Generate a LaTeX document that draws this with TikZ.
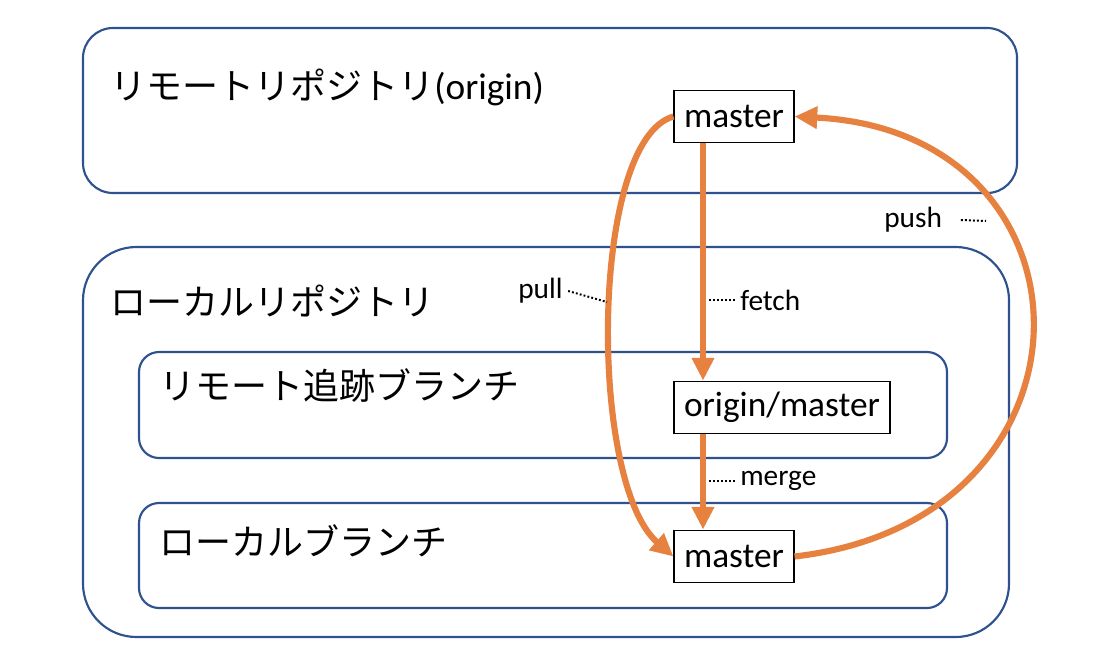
\documentclass[tikz,border=0pt]{standalone}
\usepackage{fontspec}
\setmainfont{Carlito}
\newfontfamily\cjk{Noto Sans CJK JP}
\usetikzlibrary{arrows.meta}
\definecolor{frameblue}{HTML}{2F528F}
\definecolor{arrorange}{HTML}{E6813F}
\begin{document}
\begin{tikzpicture}[x=0.75pt,y=-0.75pt,
  frame/.style={draw=frameblue,line width=1.6pt},
  title/.style={anchor=west,inner sep=0pt,font=\fontsize{27}{31}\selectfont},
  branch/.style={draw=black,line width=0.9pt,fill=white,font=\fontsize{26.5}{30}\selectfont,minimum height=39.5pt,inner xsep=7.5pt},
  arr/.style={draw=arrorange,line width=4.6pt,-{Triangle[length=17pt,width=16pt]}},
  lbl/.style={anchor=west,inner sep=0pt,font=\fontsize{22}{26}\selectfont},
  lead/.style={line width=1.5pt,dash pattern=on 1.4pt off 1.6pt}]
\useasboundingbox[fill=white] (0,0) rectangle (1102,657);
% frames
\draw[frame,rounded corners=22.5pt] (83,28) rectangle (1017,193);
\draw[frame,rounded corners=40pt] (83,247) rectangle (1009,637);
\draw[frame,rounded corners=15pt] (139,352) rectangle (947,458);
\draw[frame,rounded corners=15pt] (139,503) rectangle (947,608);
% titles
\node[title] (t1) at (110,87) {\cjk リモートリポジトリ\normalfont\fontsize{28}{31}\selectfont(origin)};
\node[title] (t2) at (110,301) {\cjk ローカルリポジトリ};
\node[title] (t3) at (159,386) {\cjk リモート追跡ブランチ};
\node[title] (t4) at (159,541) {\cjk ローカルブランチ};
% branch nodes
\node[branch] (m1) at (734,116.5) {master};
\node[branch] (om) at (782,407.5) {origin/master};
\node[branch] (m2) at (734,556.5) {master};
% arrows
\draw[arr] (m1.south -| 703,0) -- (om.north -| 703,0);
\draw[arr] (om.south -| 703,0) -- (m2.north -| 703,0);
\draw[arr] (m1.west) .. controls (590,140) and (588,482) .. (m2.west);
\draw[arr] (m2.east) .. controls (1112,520) and (1108,132) .. (m1.east);
% labels
\node[lbl] (lpull) at (518,291) {pull};
\node[lbl] (lfetch) at (740,300) {fetch};
\node[lbl] (lpush) at (884,220) {push};
\node[lbl] (lmerge) at (740,481) {merge};
\coordinate (pe) at (607,302);
\coordinate (fe) at (707,300);
\coordinate (pse) at (986,221);
\coordinate (me) at (707,481);
\draw[lead] ([xshift=4pt]lpull.east) -- (pe);
\draw[lead] ([xshift=-4pt]lfetch.west) -- (fe);
\draw[lead] ([xshift=14pt]lpush.east) -- (pse);
\draw[lead] ([xshift=-4pt]lmerge.west) -- (me);
\end{tikzpicture}
\end{document}
